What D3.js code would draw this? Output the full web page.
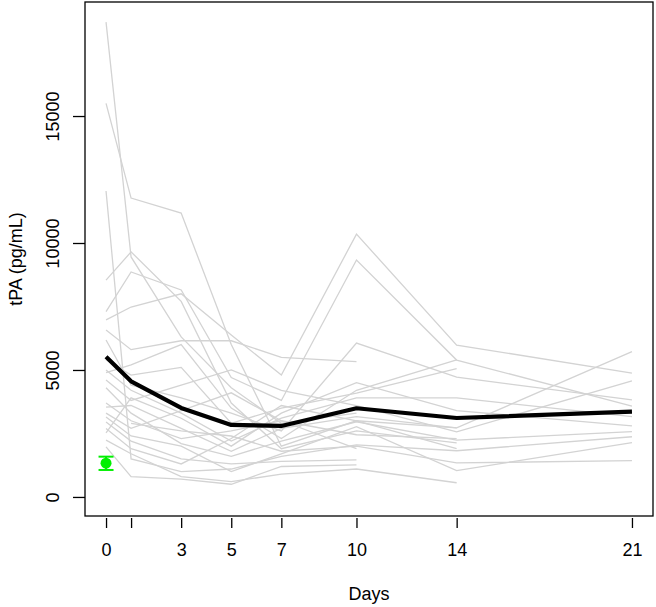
<!DOCTYPE html>
<html>
<head>
<meta charset="utf-8">
<script src="https://cdn.jsdelivr.net/npm/d3@7"></script>
<style>
  body { margin: 0; background: #fff; }
  text { font-family: "Liberation Sans", Arial, sans-serif; fill: #000; }
</style>
</head>
<body>
<div id="chart"></div>
<script>
// sampling days and their tick labels (day 1 has a tick but no label)
const days = [0, 1, 3, 5, 7, 10, 14, 21];
const dayLabels = ["0", "", "3", "5", "7", "10", "14", "21"];
const yTicks = [0, 5000, 10000, 15000];

// individual patients, tPA in pg/mL at each day (null = not sampled)
const patients = [
  [18700, 9450, 6300, 4300, 2900, 3300, null, null],
  [15500, 11770, 11180, 6000, 2000, 3000, 2720, 5720],
  [12050, 1500, 1000, 1100, 1600, 2050, 1820, 2370],
  [8540, 9650, 7700, 3700, 1900, 2600, 2130, null],
  [7300, 8860, 8150, 4700, 3800, 9330, 5390, 3580],
  [6970, 7480, 8000, 6380, 4800, 10350, 5980, 4880],
  [6570, 5800, 6150, 6150, 5500, 5330, null, null],
  [6180, 4400, 3900, 3300, 2600, 6060, 4720, 3820],
  [5400, 4800, 5100, 2900, 3500, 4090, 5050, null],
  [5000, 4200, 3300, 2200, 3100, 3900, 3900, 3160],
  [4610, 3800, 4400, 5000, 4200, 3600, 2560, 4570],
  [4300, 3300, 2100, 1600, 2200, 2960, 2240, 2570],
  [3540, 3600, 2700, 1800, 2700, 3160, 2720, null],
  [3150, 2400, 2000, 1000, 1700, 2770, 1040, 2140],
  [2950, 2200, 1500, 1300, 1400, 1460, null, null],
  [2520, 3900, 3100, 2000, 3300, 4500, 3400, 2800],
  [2240, 1700, 800, 600, 900, 1100, 560, null],
  [1970, 800, 700, 500, 1200, 1260, null, null],
  [null, 2900, 2600, 2400, 1800, 2000, 1340, 1430],
  [3700, 3000, 2300, 2600, 3000, 2450, 2300, null],
  [4900, 5200, 6000, 3500, 2300, 4200, 5400, null],
  [3300, 2700, 3400, 4100, 3000, 1900, null, null],
  [2700, 1900, 1300, 2300, 3600, 3000, 1900, null]
];

// mean curve and healthy control (mean with error bar)
const meanValues = [5524, 4555, 3504, 2835, 2795, 3492, 3110, 3358];
const controlDay = 0;
const controlMean = 1330;
const controlLow = 1063;
const controlHigh = 1587;

const W = 656, H = 607;
const box = { left: 85, right: 653, top: 2, bottom: 516 };
const fontSize = "18px";
const green = "#00f000";

const svg = d3.select("#chart").append("svg")
    .attr("width", W)
    .attr("height", H);

const x = d3.scaleLinear().domain([-0.84, 21.84]).range([box.left, box.right]);
const y = d3.scaleLinear().domain([-750, 19490]).range([box.bottom, box.top]);

const line = d3.line()
    .defined(d => d.v != null)
    .x(d => x(d.day))
    .y(d => y(d.v));

// grey patient lines
svg.append("g").selectAll("path")
    .data(patients)
    .enter().append("path")
    .attr("d", p => line(p.map((v, i) => ({day: days[i], v: v}))))
    .attr("fill", "none")
    .attr("stroke", "#d3d3d3")
    .attr("stroke-width", 1.3);

// mean
svg.append("path")
    .attr("d", line(meanValues.map((v, i) => ({day: days[i], v: v}))))
    .attr("fill", "none")
    .attr("stroke", "#000")
    .attr("stroke-width", 4.2)
    .attr("stroke-linejoin", "round");

// control point with error bar
const ctl = svg.append("g").attr("stroke", green).attr("stroke-width", 2);
ctl.append("line")
    .attr("x1", x(controlDay)).attr("x2", x(controlDay))
    .attr("y1", y(controlLow)).attr("y2", y(controlHigh));
[controlLow, controlHigh].forEach(v => {
  ctl.append("line")
      .attr("x1", x(controlDay) - 7.5).attr("x2", x(controlDay) + 7.5)
      .attr("y1", y(v)).attr("y2", y(v));
});
svg.append("circle")
    .attr("cx", x(controlDay))
    .attr("cy", y(controlMean))
    .attr("r", 5.5)
    .attr("fill", green);

// plot box
svg.append("rect")
    .attr("x", box.left).attr("y", box.top)
    .attr("width", box.right - box.left)
    .attr("height", box.bottom - box.top)
    .attr("fill", "none")
    .attr("stroke", "#000")
    .attr("stroke-width", 1.3);

// x axis (ticks only, sitting just below the box)
const xAxis = svg.append("g")
    .attr("transform", "translate(0," + (box.bottom + 2) + ")")
    .call(d3.axisBottom(x)
        .tickValues(days)
        .tickFormat((d, i) => dayLabels[i])
        .tickSize(10)
        .tickPadding(15));
xAxis.select(".domain").remove();
xAxis.selectAll("line").attr("stroke", "#000").attr("stroke-width", 1.3);
xAxis.selectAll("text").style("font-size", fontSize).attr("fill", "#000");

// y axis with labels parallel to the axis
const yAxis = svg.append("g")
    .attr("transform", "translate(" + box.left + ",0)")
    .call(d3.axisLeft(y).tickValues(yTicks).tickFormat(d3.format("d")).tickSize(12));
yAxis.select(".domain").remove();
yAxis.selectAll("line").attr("stroke", "#000").attr("stroke-width", 1.3);
yAxis.selectAll("text")
    .attr("x", null).attr("dy", null)
    .attr("text-anchor", "middle")
    .attr("transform", "translate(-26,0) rotate(-90)")
    .style("font-size", fontSize)
    .attr("fill", "#000");

svg.append("text")
    .attr("x", (box.left + box.right) / 2)
    .attr("y", 600)
    .attr("text-anchor", "middle")
    .style("font-size", fontSize)
    .text("Days");

svg.append("text")
    .attr("transform", "translate(22," + (box.top + box.bottom) / 2 + ") rotate(-90)")
    .attr("text-anchor", "middle")
    .style("font-size", fontSize)
    .text("tPA (pg/mL)");
</script>
</body>
</html>
